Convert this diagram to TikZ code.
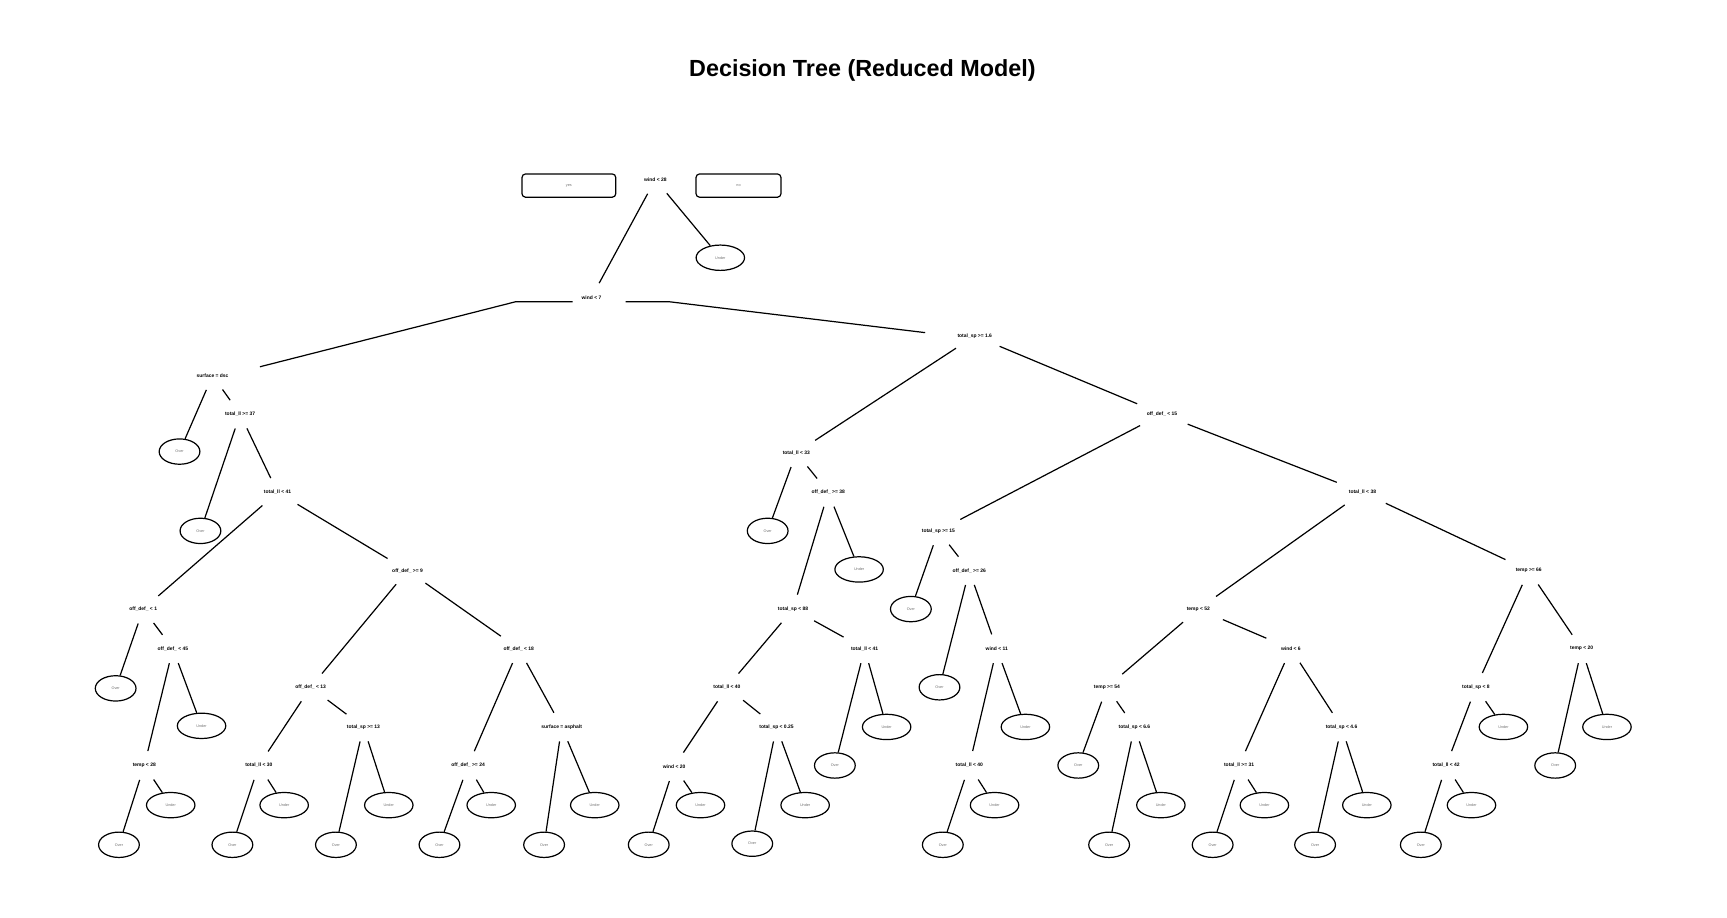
\documentclass[tikz,border=0pt]{standalone}
\usepackage{fontspec}
\setmainfont{Liberation Sans}
\usetikzlibrary{shapes.geometric}
\begin{document}
\begin{tikzpicture}[x=1pt,y=-1pt,
  split/.style={shape=ellipse, minimum width=64pt, minimum height=26pt, inner sep=0pt, font=\fontsize{4.5}{5}\selectfont\bfseries},
  leafbox/.style={draw, line width=1.1pt, ellipse, minimum height=23pt, inner sep=0pt, font=\fontsize{3.4}{4}\selectfont, text=black!55},
  over/.style={leafbox, minimum width=37pt},
  under/.style={leafbox, minimum width=44pt},
  legendbox/.style={draw, line width=1.1pt, rectangle, rounded corners=3pt, minimum height=21pt, inner sep=0pt, font=\fontsize{3.4}{4}\selectfont, text=black!55},
  branch/.style={line width=1.1pt}]
\useasboundingbox[fill=white] (0,0) rectangle (1568,833);

\node[font=\fontsize{21.2}{24}\selectfont\bfseries] (title) at (783,64) {Decision Tree (Reduced Model)};

\node[legendbox, minimum width=85pt] (legyes) at (516.5,168.5) {yes};
\node[legendbox, minimum width=77pt] (legno) at (670.5,168.5) {no};

% split nodes
\node[split] (n1) at (595,163) {wind < 28};
\node[split] (n2) at (537,270) {wind < 7};
\node[split] (n3) at (193,341) {surface = dsc};
\node[split] (n4) at (218,376) {total\_ll >= 37};
\node[split] (n5) at (252,447) {total\_ll < 41};
\node[split] (n6) at (130,553) {off\_def\_ < 1};
\node[split] (n7) at (157,589) {off\_def\_ < 45};
\node[split] (n8) at (131,695) {temp < 28};
\node[split] (n9) at (370,518) {off\_def\_ >= 9};
\node[split] (n10) at (282,624) {off\_def\_ < 13};
\node[split] (n11) at (235,695) {total\_ll < 30};
\node[split] (n12) at (330,660) {total\_sp >= 13};
\node[split] (n13) at (471,589) {off\_def\_ < 18};
\node[split] (n14) at (425,695) {off\_def\_ >= 24};
\node[split] (n15) at (510,660) {surface = asphalt};
\node[split] (n16) at (885,305) {total\_sp >= 1.6};
\node[split] (n17) at (723,411) {total\_ll < 33};
\node[split] (n18) at (752,447) {off\_def\_ >= 38};
\node[split] (n19) at (720,553) {total\_sp < 88};
\node[split] (n20) at (660,624) {total\_ll < 40};
\node[split] (n21) at (612,696) {wind < 20};
\node[split] (n22) at (705,660) {total\_sp < 0.25};
\node[split] (n23) at (785,589) {total\_ll < 41};
\node[split] (n24) at (1055,376) {off\_def\_ < 15};
\node[split] (n25) at (852,482) {total\_sp >= 15};
\node[split] (n26) at (880,518) {off\_def\_ >= 26};
\node[split] (n27) at (905,589) {wind < 11};
\node[split] (n28) at (880,695) {total\_ll < 40};
\node[split] (n29) at (1237,447) {total\_ll < 38};
\node[split] (n30) at (1088,553) {temp < 52};
\node[split] (n31) at (1005,624) {temp >= 54};
\node[split] (n32) at (1030,660) {total\_sp < 6.6};
\node[split] (n33) at (1172,589) {wind < 6};
\node[split] (n34) at (1125,695) {total\_ll >= 31};
\node[split] (n35) at (1218,660) {total\_sp < 4.6};
\node[split] (n36) at (1388,518) {temp >= 66};
\node[split] (n37) at (1340,624) {total\_sp < 8};
\node[split] (n38) at (1313,695) {total\_ll < 42};
\node[split] (n39) at (1436,589) {temp < 20};

% leaves
\node[under] (l1) at (654,234) {Under};
\node[over] (l2) at (163,410) {Over};
\node[over] (l3) at (182,482) {Over};
\node[over] (l4) at (105,625) {Over};
\node[under] (l5) at (183,659) {Under};
\node[over] (l6) at (108,767) {Over};
\node[under] (l7) at (155,731) {Under};
\node[over] (l8) at (211,767) {Over};
\node[under] (l9) at (258,731) {Under};
\node[over] (l10) at (305,767) {Over};
\node[under] (l11) at (353,731) {Under};
\node[over] (l12) at (399,767) {Over};
\node[under] (l13) at (446,731) {Under};
\node[over] (l14) at (494,767) {Over};
\node[under] (l15) at (540,731) {Under};
\node[over] (l16) at (697,482) {Over};
\node[under] (l17) at (780,517) {Under};
\node[over] (l18) at (589,767) {Over};
\node[under] (l19) at (636,731) {Under};
\node[over] (l20) at (683,766) {Over};
\node[under] (l21) at (731,731) {Under};
\node[over] (l22) at (758,695) {Over};
\node[under] (l23) at (805,660) {Under};
\node[over] (l24) at (827,553) {Over};
\node[over] (l25) at (853,624) {Over};
\node[under] (l26) at (931,660) {Under};
\node[over] (l27) at (856,767) {Over};
\node[under] (l28) at (903,731) {Under};
\node[over] (l29) at (979,695) {Over};
\node[over] (l30) at (1007,767) {Over};
\node[under] (l31) at (1054,731) {Under};
\node[over] (l32) at (1101,767) {Over};
\node[under] (l33) at (1148,731) {Under};
\node[over] (l34) at (1194,767) {Over};
\node[under] (l35) at (1241,731) {Under};
\node[under] (l36) at (1365,660) {Under};
\node[over] (l37) at (1290,767) {Over};
\node[under] (l38) at (1336,731) {Under};
\node[over] (l39) at (1412,695) {Over};
\node[under] (l40) at (1459,660) {Under};

% branches
\foreach \a/\b in {n1/n2, n1/l1, n3/l2, n3/n4, n4/l3, n4/n5, n5/n6, n5/n9,
  n6/l4, n6/n7, n7/n8, n7/l5, n8/l6, n8/l7, n9/n10, n9/n13, n10/n11, n10/n12,
  n11/l8, n11/l9, n12/l10, n12/l11, n13/n14, n13/n15, n14/l12, n14/l13,
  n15/l14, n15/l15, n16/n17, n16/n24, n17/l16, n17/n18, n18/n19, n18/l17,
  n19/n20, n19/n23, n20/n21, n20/n22, n21/l18, n21/l19, n22/l20, n22/l21,
  n23/l22, n23/l23, n24/n25, n24/n29, n25/l24, n25/n26, n26/l25, n26/n27,
  n27/n28, n27/l26, n28/l27, n28/l28, n29/n30, n29/n36, n30/n31, n30/n33,
  n31/l29, n31/n32, n32/l30, n32/l31, n33/n34, n33/n35, n34/l32, n34/l33,
  n35/l34, n35/l35, n36/n37, n36/n39, n37/n38, n37/l36, n38/l37, n38/l38,
  n39/l39, n39/l40}
  \draw[branch] (\a) -- (\b);

\draw[branch] ([xshift=-17pt,yshift=-4pt]n2.center) -- ++(-52pt,0) -- ([xshift=43pt,yshift=8pt]n3.center);
\draw[branch] ([xshift=31pt,yshift=-4pt]n2.center) -- ++(40pt,0) -- ([xshift=-45pt,yshift=3pt]n16.center);
\end{tikzpicture}
\end{document}
